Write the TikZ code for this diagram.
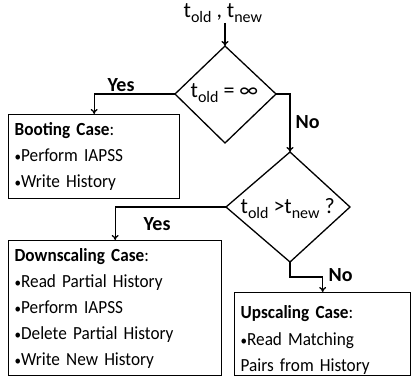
\documentclass[tikz,border=0pt]{standalone}
\usepackage{fontspec}
\setmainfont{Carlito}[FakeStretch=0.93]
\newfontfamily\dfont{Carlito}
\usetikzlibrary{arrows.meta,calc}
\newcommand\bul{{\fontsize{14}{14}\selectfont •}}
\newcommand\sbs[1]{\raisebox{-5pt}{\fontsize{16}{16}\selectfont #1}}
\begin{document}
\begin{tikzpicture}[x=1pt,y=-1pt,
  line width=1.3pt,
  conn/.style={-{To[length=5pt,width=7pt]}},
  lbl/.style={anchor=base west,inner sep=0pt,font=\dfont\fontsize{20}{22}\selectfont\bfseries},
  txt/.style={anchor=base west,inner sep=0pt,font=\dfont\fontsize{22}{24}\selectfont},
  casebox/.style={draw,anchor=north west,align=left,inner xsep=6pt,inner ysep=0pt,
     font=\fontsize{18.5}{26}\selectfont},
  casetext/.style={anchor=north west,align=left,inner xsep=6pt,inner ysep=0pt,
     font=\fontsize{18.5}{26.5}\selectfont},
  diam/.style={draw,line join=miter}]
\useasboundingbox (0,0) rectangle (411,378);
% input
\node[txt] (inp) at (183,17) {t\sbs{old} , t\sbs{new}};
\coordinate (inpb) at (225,28);
% diamond 1
\coordinate (d1t) at (225,46);
\coordinate (d1l) at (175,94);
\coordinate (d1r) at (276,94);
\coordinate (d1b) at (225,143);
\draw[diam] (d1t) -- (d1r) -- (d1b) -- (d1l) -- cycle;
\node[txt] (d1) at (190,97) {t\sbs{old} = ∞};
% diamond 2
\coordinate (d2t) at (290,152);
\coordinate (d2l) at (226,207);
\coordinate (d2r) at (350,207);
\coordinate (d2b) at (290,262);
\draw[diam] (d2t) -- (d2r) -- (d2b) -- (d2l) -- cycle;
\node[txt] (d2) at (240,213) {t\sbs{old} >t\sbs{new} ?};
% boxes
\node[casebox,text width=159pt,minimum height=84pt] (boot) at (8,114)
 {\textbf{Booting Case}:\\\bul Perform IAPSS\\\bul Write History};
\node[casebox,text width=201pt,minimum height=135pt] (down) at (8,240)
 {\textbf{Downscaling Case}:\\\bul Read Partial History\\\bul Perform IAPSS\\\bul Delete Partial History\\\bul Write New History};
\node[draw,anchor=north west,minimum width=176pt,minimum height=83pt,inner sep=0pt] (up) at (234,292) {};
\node[casetext,text width=164pt] (uptxt) at (234,305)
 {\textbf{Upscaling Case}:\\\bul Read Matching\\Pairs from History};
% connectors
\draw[conn] (inp.south -| inpb) -- (d1t);
\draw[conn] (d1l) -| (boot.north);
\draw[conn] (d1r) -| (d2t);
\draw[conn] (d2l) -| (down.north);
\coordinate (elb) at (290,277);
\draw[conn] (d2b) -- (elb) -| (up.north);
% labels
\node[lbl] (y1) at (107,91) {Yes};
\node[lbl] (n1) at (295,128) {No};
\node[lbl] (y2) at (143,230) {Yes};
\node[lbl] (n2) at (328,281) {No};
\end{tikzpicture}
\end{document}
